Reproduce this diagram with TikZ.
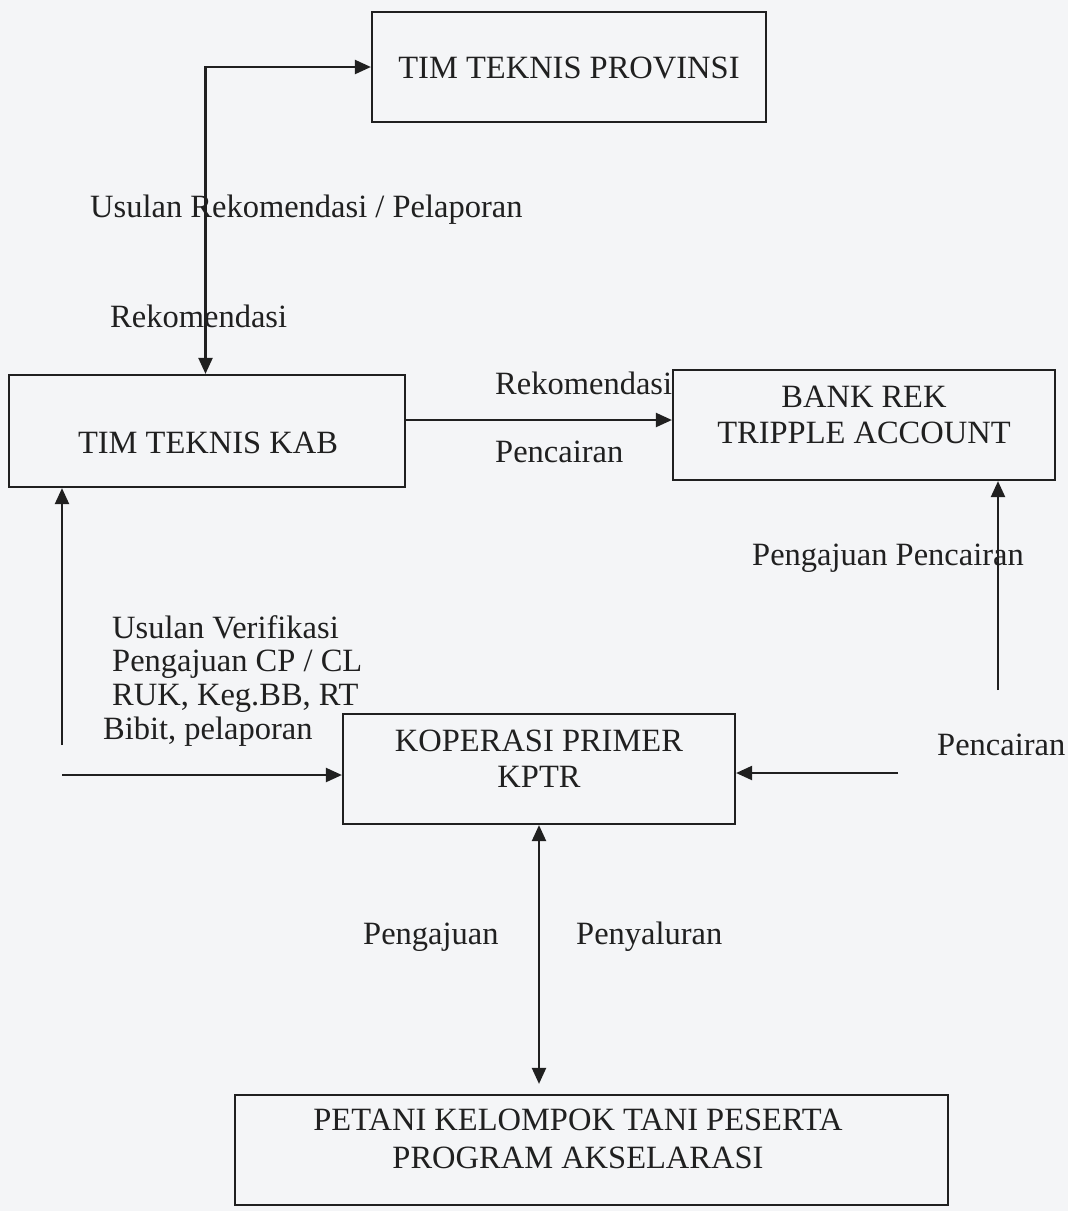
\documentclass[tikz,border=0pt]{standalone}
\usepackage{fontspec}
\setmainfont{Liberation Serif}
\usetikzlibrary{arrows.meta}
\definecolor{paper}{RGB}{244,245,247}
\definecolor{ink}{RGB}{32,32,32}
\begin{document}
\begin{tikzpicture}[x=1pt,y=-1pt,
  box/.style={draw=ink, line width=2.2pt, inner sep=0pt},
  txt/.style={text=ink, font=\fontsize{32.5}{36}\selectfont, align=center, inner sep=0pt},
  lbl/.style={text=ink, font=\fontsize{32.5}{33.7}\selectfont, inner sep=0pt},
  tip/.tip={Triangle[length=16pt,width=14pt]},
  conn/.style={draw=ink, line width=2.2pt, -tip},
  conn2/.style={draw=ink, line width=2.2pt, tip-tip},
]
\fill[paper] (0,0) rectangle (1068,1211);
\useasboundingbox (0,0) rectangle (1068,1211);

% boxes
\node[box, minimum width=394pt, minimum height=110pt] (prov) at (569,67) {};
\node[box, minimum width=396pt, minimum height=112pt] (kab) at (207,431) {};
\node[box, minimum width=382pt, minimum height=110pt] (bank) at (864,425) {};
\node[box, minimum width=392pt, minimum height=110pt] (kop) at (539,769) {};
\node[box, minimum width=713pt, minimum height=110pt] (petani) at (591.5,1150) {};

% box texts
\node[txt] (provt) at (569,68) {TIM TEKNIS PROVINSI};
\node[txt] (kabt) at (208,443) {TIM TEKNIS KAB};
\node[txt] (bankt) at (864,415) {BANK REK\\TRIPPLE ACCOUNT};
\node[txt] (kopt) at (539,759) {KOPERASI PRIMER\\KPTR};
\node[txt, font=\fontsize{32.5}{38}\selectfont] (petanit) at (578,1139) {PETANI KELOMPOK TANI PESERTA\\PROGRAM AKSELARASI};

% connectors
\draw[conn2] ([xshift=-1.5pt]kab.north) |- (prov.west);
\coordinate (a1) at (0,420);
\draw[conn] (kab.east |- a1) -- (bank.west |- a1);
\coordinate (l1) at (62,745);
\draw[conn] (l1) -- (l1 |- kab.south);
\coordinate (l2) at (62,775);
\draw[conn] (l2) -- (l2 -| kop.west);
\coordinate (r1) at (998,690);
\draw[conn] (r1) -- (r1 |- bank.south);
\coordinate (r2) at (898,773);
\draw[conn] (r2) -- (r2 -| kop.east);
\draw[conn2, shorten >=10pt] (kop.south) -- (kop.south |- petani.north);

% labels
\node[lbl, anchor=west] (l_usrek) at (90,210) {Usulan Rekomendasi / Pelaporan};
\node[lbl, anchor=west] (l_rek1) at (110,316) {Rekomendasi};
\node[lbl, anchor=west] (l_rek2) at (495,383) {Rekomendasi};
\node[lbl, anchor=west] (l_pen1) at (495,452) {Pencairan};
\node[lbl, anchor=west] (l_pp) at (752,558) {Pengajuan Pencairan};
\node[lbl, anchor=north west, align=left] (l_usver) at (112,615) {Usulan Verifikasi\\Pengajuan CP / CL\\RUK, Keg.BB, RT\\\hspace*{-9pt}Bibit, pelaporan};
\node[lbl, anchor=west] (l_pen2) at (937,745) {Pencairan};
\node[lbl, anchor=west] (l_peng) at (363,937) {Pengajuan};
\node[lbl, anchor=west] (l_peny) at (576,937) {Penyaluran};
\end{tikzpicture}
\end{document}
